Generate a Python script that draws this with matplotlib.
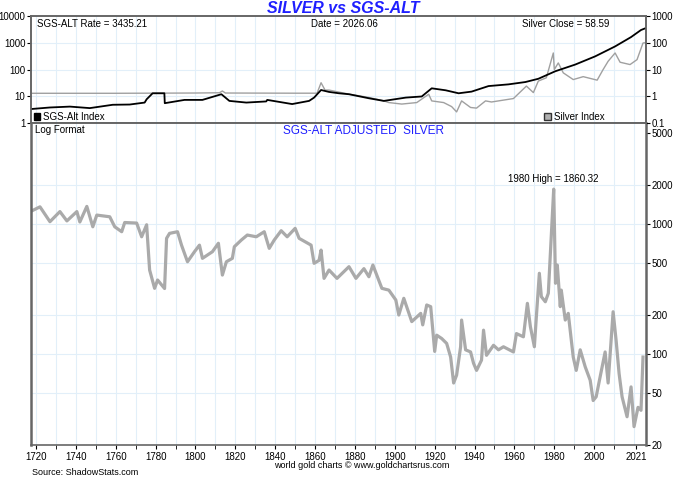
import matplotlib.pyplot as plt
from matplotlib.patches import Patch

plt.rcParams['font.family'] = ['Liberation Sans', 'DejaVu Sans']

# top panel: SGS-Alt index (black) and silver index (gray), left scale units
sgs_years = [1717, 1727, 1737, 1747, 1758.5, 1767, 1774.5, 1775.5, 1778.5, 1784.4, 1784.6,
             1794.5, 1803.5, 1813, 1817, 1825.5, 1835.5, 1836, 1848.5, 1857, 1859.5, 1863,
             1867, 1872, 1877, 1887, 1894.5, 1905.5, 1913.5, 1918.5, 1925.5, 1932, 1938.5,
             1947, 1957, 1965.5, 1972, 1980.5, 1990.5, 2000.5, 2010.5, 2018.5, 2023.5, 2025.5]
sgs_vals = [3.3, 3.8, 4.1, 3.6, 4.8, 4.9, 5.8, 7.7, 12.9, 12.9, 5.5,
            7.3, 7.3, 11.9, 6.7, 5.8, 6.4, 7.3, 5.1, 6.7, 8.9, 17.1,
            14.5, 12.9, 11.9, 8.4, 6.7, 8.9, 9.8, 19.8, 16.7, 12.9, 14.9,
            24, 27.8, 34, 45, 86, 153, 310, 730, 1630, 3000, 3435]

silv_years = [1717, 1760, 1800, 1812, 1813.5, 1815, 1850, 1861, 1863, 1865, 1867, 1877, 1887,
              1894.5, 1897, 1903.5, 1911, 1917, 1918.5, 1924.5, 1928.5, 1931, 1933.5, 1938,
              1941, 1945.5, 1948.5, 1959.5, 1966, 1969.5, 1972, 1976, 1979.5, 1980, 1982,
              1984.5, 1989.5, 1994.5, 2001.5, 2004.5, 2007, 2010.5, 2013, 2018, 2021.5, 2024.5, 2025.5]
silv_vals = [12.9, 12.9, 13.2, 13.5, 15.7, 13.2, 13, 13, 32, 17, 17, 12, 9,
             6.7, 5.8, 5.1, 5.8, 11.9, 6.7, 5.8, 4.1, 2.6, 6.7, 3.8,
             3.6, 6.7, 6.1, 8.2, 24, 13.7, 37, 49, 415, 100, 176,
             75, 42, 54, 40, 100, 203, 415, 187, 153, 234, 980, 1000]

# bottom panel: SGS-Alt adjusted silver
adj_years = [1718, 1722, 1727, 1732, 1735.5, 1740.5, 1742, 1745.5, 1748.5, 1750.5, 1757, 1759.5,
             1763, 1764.5, 1770.5, 1773, 1775.5, 1777, 1779.5, 1781, 1784.5, 1785.5, 1787, 1791,
             1793, 1796, 1799.5, 1802, 1803.5, 1808.5, 1811.5, 1813.5, 1815.5, 1818.5, 1819.5,
             1823, 1826, 1830.5, 1834.5, 1837, 1839.5, 1843, 1846, 1850, 1852, 1858, 1859.5,
             1862, 1863, 1864.5, 1867, 1871, 1877, 1880.5, 1884.5, 1887, 1889, 1893.5, 1897,
             1900.5, 1902, 1904.5, 1908.5, 1913, 1914, 1916, 1918, 1920, 1921, 1923.5, 1926,
             1928, 1929.5, 1931, 1933, 1933.5, 1935.5, 1938, 1939.5, 1941, 1943.5, 1944.5, 1946,
             1949.5, 1952, 1954.5, 1959.5, 1961, 1964.5, 1966.5, 1968, 1970, 1971, 1972.5,
             1973.5, 1975.5, 1977, 1979.7, 1980.1, 1980.6, 1981.5, 1983, 1983.5, 1985.5, 1987,
             1989.5, 1991, 1993, 1995.5, 1998, 1999.5, 2001, 2003, 2005.5, 2007, 2009.5, 2011,
             2012.5, 2014, 2016.5, 2018.5, 2020, 2022, 2023.5, 2024.5]
adj_vals = [1268, 1360, 1045, 1250, 1060, 1250, 1040, 1370, 955, 1175, 1140, 955,
            875, 1030, 1020, 800, 990, 444, 321, 372, 320, 778, 850, 875,
            690, 514, 614, 690, 546, 614, 713, 406, 514, 546, 671,
            755, 825, 800, 875, 652, 755, 891, 800, 929, 778, 690, 500,
            527, 632, 383, 444, 383, 471, 383, 455, 394, 485, 321, 311,
            261, 200, 269, 178, 206, 168, 239, 232, 105, 140, 132, 121,
            95, 60, 69, 114, 183, 108, 104, 85, 75, 90, 153, 98,
            117, 108, 114, 104, 144, 136, 246, 163, 114, 194, 419,
            277, 253, 294, 1860, 901, 351, 485, 232, 311, 183, 206,
            95, 75, 108, 80, 63, 44, 47, 67, 104, 60, 212, 128,
            71, 47, 33, 56, 27.7, 39, 37, 95]

tick_years = [1720, 1740, 1760, 1780, 1800, 1820, 1840, 1860, 1880, 1900, 1920, 1940, 1960, 1980, 2000, 2021]
minor_years = list(range(1730, 2020, 20))
grid_years = list(range(1720, 2030, 10))

grid_col = '#e2eff9'
spine_col = '#666666'

fig = plt.figure(figsize=(6.8, 4.78), dpi=100)
ax1 = fig.add_axes([0.0456, 0.7427, 0.9044, 0.2238])
ax2 = fig.add_axes([0.0456, 0.069, 0.9044, 0.6736])

xlo, xhi = 1717.5, 2026

# ---- top panel
ax1.set_yscale('log')
ax1.set_ylim(1, 10000)
ax1.set_xlim(xlo, xhi)
for g in grid_years:
    ax1.axvline(g, color=grid_col, lw=0.8, zorder=0)
for g in [10, 100, 1000]:
    ax1.axhline(g, color=grid_col, lw=0.8, zorder=0)
ax1.plot(silv_years, silv_vals, color='#a0a0a0', lw=1.0, zorder=2)
ax1.plot(sgs_years, sgs_vals, color='black', lw=1.3, zorder=3)
ax1.set_xticks([])
ax1.set_yticks([1, 10, 100, 1000, 10000])
ax1.set_yticklabels(['1', '10', '100', '1000', '10000'], fontsize=7)
ax1.minorticks_off()
ax1.tick_params(axis='y', length=3, pad=1)
ax1r = ax1.twinx()
ax1r.set_yscale('log')
ax1r.set_ylim(0.1, 1000)
ax1r.set_yticks([0.1, 1, 10, 100, 1000])
ax1r.set_yticklabels(['0.1', '1', '10', '100', '1000'], fontsize=7)
ax1r.minorticks_off()
ax1r.tick_params(axis='y', length=3, pad=1)
for a in (ax1, ax1r):
    for s in a.spines.values():
        s.set_color(spine_col)
        s.set_linewidth(1.2)

ax1.text(0.01, 0.97, 'SGS-ALT Rate = 3435.21', transform=ax1.transAxes, fontsize=7, va='top')
ax1.text(0.51, 0.97, 'Date = 2026.06', transform=ax1.transAxes, fontsize=7, va='top', ha='center')
ax1.text(0.94, 0.97, 'Silver Close = 58.59', transform=ax1.transAxes, fontsize=7, va='top', ha='right')

leg1 = ax1.legend(handles=[Patch(facecolor='black', edgecolor='black')], labels=['SGS-Alt Index'],
                  loc='lower left', bbox_to_anchor=(-0.01, -0.07), frameon=False, fontsize=7,
                  handlelength=0.7, handleheight=0.7, handletextpad=0.3)
ax1.add_artist(leg1)
ax1.legend(handles=[Patch(facecolor='#b0b0b0', edgecolor='#333333')], labels=['Silver Index'],
           loc='lower left', bbox_to_anchor=(0.82, -0.07), frameon=False, fontsize=7,
           handlelength=0.7, handleheight=0.7, handletextpad=0.3)

fig.text(0.505, 0.983, 'SILVER vs SGS-ALT', color='#1f1fff', fontsize=11.5,
         fontweight='bold', fontstyle='italic', ha='center', va='center')

# ---- bottom panel
ax2.set_yscale('log')
ax2.set_ylim(20, 6000)
ax2.set_xlim(xlo, xhi)
for g in grid_years:
    ax2.axvline(g, color=grid_col, lw=0.8, zorder=0)
for g in [50, 100, 200, 500, 1000, 2000]:
    ax2.axhline(g, color=grid_col, lw=0.8, zorder=0)
ax2.plot(adj_years, adj_vals, color='#aaaaaa', lw=2.3, zorder=2)
ax2.yaxis.tick_right()
ax2.set_yticks([20, 50, 100, 200, 500, 1000, 2000, 5000])
ax2.set_yticklabels(['20', '50', '100', '200', '500', '1000', '2000', '5000'], fontsize=7)
ax2.minorticks_off()
ax2.tick_params(axis='y', length=3, pad=1)
ax2.set_xticks(tick_years)
ax2.set_xticklabels([str(y) for y in tick_years], fontsize=7)
ax2.set_xticks(minor_years, minor=True)
ax2.tick_params(axis='x', which='both', length=3, pad=2)
for s in ax2.spines.values():
    s.set_color(spine_col)
    s.set_linewidth(1.2)
ax2.spines['left'].set_linewidth(1.8)
ax2.spines['right'].set_linewidth(1.8)

ax2.text(0.006, 0.995, 'Log Format', transform=ax2.transAxes, fontsize=7, va='top')
ax2.text(0.54, 0.995, 'SGS-ALT ADJUSTED  SILVER', transform=ax2.transAxes, fontsize=8.5,
         color='#1f1fff', va='top', ha='center')
ax2.annotate('1980 High = 1860.32', xy=(1979.7, 1860), xytext=(0, 4), textcoords='offset points',
             fontsize=7, ha='center', va='bottom')

fig.text(0.532, 0.027, 'world gold charts \u00a9 www.goldchartsrus.com', fontsize=6.5, ha='center', va='center')
fig.text(0.047, 0.012, 'Source: ShadowStats.com', fontsize=6.5, ha='left', va='center')

fig.savefig('out.png', dpi=100)
